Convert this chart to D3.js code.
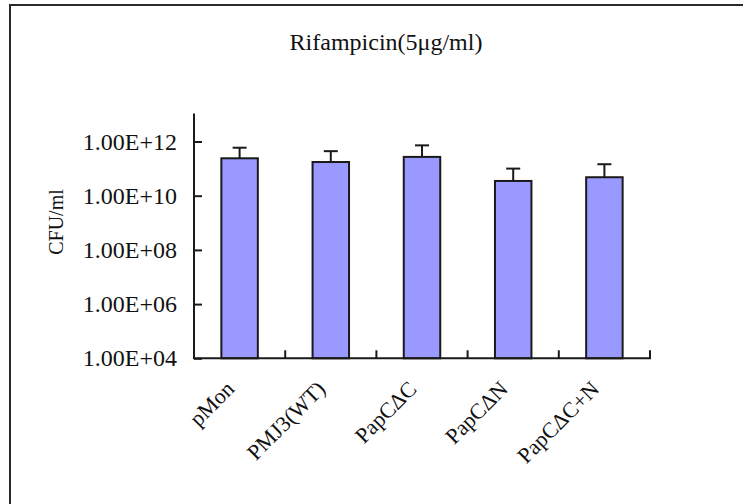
<!DOCTYPE html>
<html>
<head>
<meta charset="utf-8">
<script src="https://cdn.jsdelivr.net/npm/d3@7"></script>
<style>
  html, body { margin: 0; padding: 0; background: #fff; }
  svg text { font-family: "Liberation Serif", "Times New Roman", serif; fill: #111; }
</style>
</head>
<body>
<svg id="chart" width="743" height="504"></svg>
<script>
// Viable counts (CFU/ml) after rifampicin treatment, mean and upper error
const categories = ["pMon", "PMJ3(WT)", "PapC\u0394C", "PapC\u0394N", "PapC\u0394C+N"];
const means = [2.4e11, 1.75e11, 2.7e11, 3.5e10, 4.8e10];
const errors = [3.5e11, 2.65e11, 4.5e11, 6.5e10, 9.7e10];
const tickValues = [1e4, 1e6, 1e8, 1e10, 1e12];
const tickLabels = ["1.00E+04", "1.00E+06", "1.00E+08", "1.00E+10", "1.00E+12"];
const titleText = "Rifampicin(5\u03bcg/ml)";
const yTitle = "CFU/ml";

const svg = d3.select("#chart");

// outer frame
svg.append("rect")
  .attr("x", 10).attr("y", 5)
  .attr("width", 800).attr("height", 600)
  .attr("fill", "none").attr("stroke", "#2a2a2a").attr("stroke-width", 2);

const plot = { left: 194, right: 650, top: 114.4, bottom: 358.3 };

const x = d3.scaleBand()
  .domain(categories)
  .range([plot.left, plot.right])
  .paddingInner(0.6)
  .paddingOuter(0.3);

const y = d3.scaleLog()
  .domain([1e4, 1e13])
  .range([plot.bottom, plot.top]);

// title
svg.append("text")
  .attr("x", 386).attr("y", 50)
  .attr("text-anchor", "middle")
  .style("font-size", "24px")
  .text(titleText);

// bars
svg.append("g").selectAll("rect")
  .data(categories)
  .join("rect")
  .attr("x", d => x(d))
  .attr("width", x.bandwidth())
  .attr("y", (d, i) => y(means[i]))
  .attr("height", (d, i) => plot.bottom - y(means[i]))
  .attr("fill", "#9999ff")
  .attr("stroke", "#1a1a1a")
  .attr("stroke-width", 2);

// error bars (upper only)
const eb = svg.append("g").attr("stroke", "#1a1a1a").attr("stroke-width", 2);
categories.forEach((c, i) => {
  const cx = x(c) + x.bandwidth() / 2;
  const yt = y(means[i] + errors[i]);
  eb.append("line").attr("x1", cx).attr("x2", cx)
    .attr("y1", y(means[i])).attr("y2", yt);
  eb.append("line").attr("x1", cx - 7).attr("x2", cx + 7)
    .attr("y1", yt).attr("y2", yt);
});

// y axis with inside ticks
const yAxis = d3.axisRight(y)
  .tickValues(tickValues)
  .tickFormat((d, i) => tickLabels[i])
  .tickSize(8)
  .tickSizeOuter(0);
const gy = svg.append("g")
  .attr("transform", `translate(${plot.left},0)`)
  .call(yAxis);
gy.select(".domain").attr("stroke", "#1a1a1a").attr("stroke-width", 2)
  .attr("d", `M0,${plot.top - 1}V${plot.bottom}`);
gy.selectAll(".tick line").attr("stroke", "#1a1a1a").attr("stroke-width", 2);
gy.selectAll(".tick text")
  .attr("x", -17)
  .attr("text-anchor", "end")
  .style("font-size", "24px")
  .style("font-family", "'Liberation Serif', serif")
  .attr("fill", "#111");

// x axis: line with inside ticks at category boundaries
const boundaries = d3.range(categories.length + 1)
  .map(i => plot.left + i * (plot.right - plot.left) / categories.length);
const gx = svg.append("g").attr("stroke", "#1a1a1a").attr("stroke-width", 2);
gx.append("line")
  .attr("x1", plot.left - 1).attr("x2", plot.right + 1)
  .attr("y1", plot.bottom).attr("y2", plot.bottom);
gx.selectAll("line.tk")
  .data(boundaries.slice(1))
  .join("line")
  .attr("class", "tk")
  .attr("x1", d => d).attr("x2", d => d)
  .attr("y1", plot.bottom).attr("y2", plot.bottom - 8);

// category labels, rotated
svg.append("g").selectAll("text")
  .data(categories)
  .join("text")
  .attr("transform", d => `translate(${x(d) + x.bandwidth() / 2 - 4},${plot.bottom + 32}) rotate(-45)`)
  .attr("text-anchor", "end")
  .style("font-size", "22px")
  .text(d => d);

// y axis title
svg.append("text")
  .attr("transform", "translate(63,222) rotate(-90)")
  .attr("text-anchor", "middle")
  .style("font-size", "20px")
  .text(yTitle);
</script>
</body>
</html>
